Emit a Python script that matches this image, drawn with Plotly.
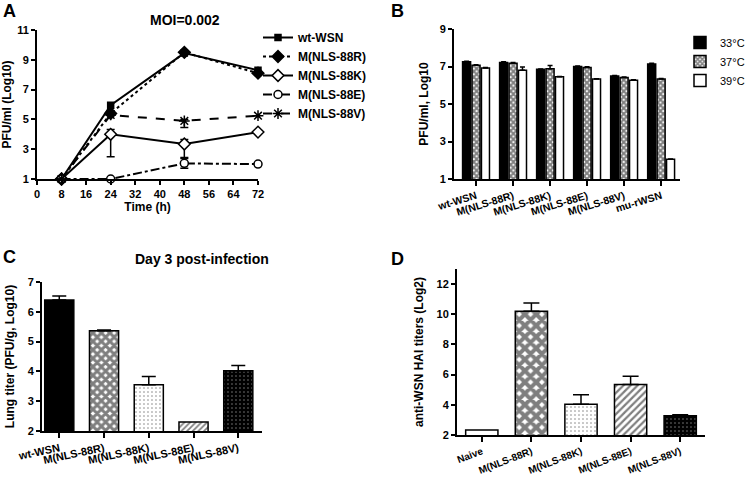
import plotly.graph_objects as go

FONT = "Liberation Sans, Arial, sans-serif"

# ---------------- Panel A data ----------------
time_h = [8, 24, 48, 72]
a_names = ["wt-WSN", "M(NLS-88R)", "M(NLS-88K)", "M(NLS-88E)", "M(NLS-88V)"]
a_wt = [1.0, 5.95, 9.45, 8.3]
a_88r = [1.0, 5.4, 9.5, 8.1]
a_88k = [1.0, 4.0, 3.35, 4.15]
a_88e = [1.0, 1.0, 2.05, 2.0]
a_88v = [1.0, 5.3, 4.9, 5.25]
a_88k_err_up = [0, 0.33, 0.3, 0]
a_88k_err_dn = [0, 1.5, 0.9, 0]
a_88e_err = [0, 0, 0.33, 0]
a_88v_err_up = [0, 0, 0.1, 0]
a_88v_err_dn = [0, 0, 0.45, 0]

# ---------------- Panel B data ----------------
b_cats = ["wt-WSN", "M(NLS-88R)", "M(NLS-88K)", "M(NLS-88E)", "M(NLS-88V)", "mu-rWSN"]
b_temps = ["33°C", "37°C", "39°C"]
b_33 = [7.25, 7.22, 6.85, 7.0, 6.5, 7.13]
b_37 = [7.07, 7.18, 6.88, 6.95, 6.42, 6.33]
b_39 = [6.92, 6.8, 6.45, 6.33, 6.27, 2.05]
b_33_err = [0.03, 0.04, 0.02, 0.03, 0.02, 0.04]
b_37_err = [0.03, 0.03, 0.18, 0.04, 0.02, 0.03]
b_39_err = [0.03, 0.18, 0.02, 0.02, 0.02, 0.02]

# ---------------- Panel C data ----------------
c_cats = ["wt-WSN", "M(NLS-88R)", "M(NLS-88K)", "M(NLS-88E)", "M(NLS-88V)"]
c_vals = [6.4, 5.36, 3.55, 2.3, 4.02]
c_err = [0.13, 0.03, 0.28, 0.0, 0.18]

# ---------------- Panel D data ----------------
d_cats = ["Naive", "M(NLS-88R)", "M(NLS-88K)", "M(NLS-88E)", "M(NLS-88V)"]
d_vals = [2.33, 10.2, 4.03, 5.35, 3.28]
d_err = [0.0, 0.55, 0.64, 0.55, 0.07]

fig = go.Figure()

# ---- Panel A traces ----
a_series = [a_wt, a_88r, a_88k, a_88e, a_88v]
a_dash = ["solid", "dot", "solid", "dashdot", "dash"]
a_sym = ["square", "diamond", "diamond", "circle", "asterisk-open"]
a_mcol = ["black", "black", "white", "white", "black"]
a_msize = [6, 9, 9, 8, 9]
a_errs = [None, None, (a_88k_err_up, a_88k_err_dn), (a_88e_err, a_88e_err),
          (a_88v_err_up, a_88v_err_dn)]
for name, ys, dash, sym, mc, ms, err in zip(a_names, a_series, a_dash, a_sym,
                                            a_mcol, a_msize, a_errs):
    kw = {}
    if err is not None:
        kw["error_y"] = dict(type="data", array=err[0], arrayminus=err[1],
                             symmetric=False, color="black", thickness=1.5, width=4)
    fig.add_trace(go.Scatter(
        x=time_h, y=ys, name=name, mode="lines+markers",
        line=dict(color="black", width=2, dash=dash),
        marker=dict(symbol=sym, size=ms, color=mc,
                    line=dict(color="black", width=1.5)),
        cliponaxis=False, xaxis="x", yaxis="y", legend="legend", **kw))

# ---- Panel B traces ----
b_vals = [b_33, b_37, b_39]
b_errs = [b_33_err, b_37_err, b_39_err]
b_pat = [dict(shape="", bgcolor="black"),
         dict(shape="x", fgcolor="black", bgcolor="white", size=4, solidity=0.75),
         dict(shape="", bgcolor="white")]
b_col = ["black", "white", "white"]
for name, vals, err, pat, col in zip(b_temps, b_vals, b_errs, b_pat, b_col):
    fig.add_trace(go.Bar(
        x=b_cats, y=vals, name=name,
        marker=dict(color=col, pattern=pat, line=dict(color="black", width=1.5)),
        error_y=dict(type="data", array=err, arrayminus=[0] * len(err),
                     symmetric=False, color="black", thickness=1.5, width=2.5),
        xaxis="x2", yaxis="y2", legend="legend2"))

# ---- Panel C trace ----
c_pats = [dict(shape="", bgcolor="black"),
          dict(shape="x", fgcolor="black", bgcolor="white", size=6, solidity=0.75),
          dict(shape=".", fgcolor="black", bgcolor="white", size=4, solidity=0.12),
          dict(shape="/", fgcolor="black", bgcolor="white", size=4, solidity=0.45),
          dict(shape=".", fgcolor="white", bgcolor="black", size=4, solidity=0.12)]
c_cols = ["black", "white", "white", "white", "black"]
for cat, v, e, pat, col in zip(c_cats, c_vals, c_err, c_pats, c_cols):
    fig.add_trace(go.Bar(
        x=[cat], y=[v], showlegend=False,
        marker=dict(color=col, pattern=pat, line=dict(color="black", width=1.5)),
        error_y=dict(type="data", array=[e], arrayminus=[0], symmetric=False,
                     color="black", thickness=1.5, width=7, visible=e > 0),
        xaxis="x3", yaxis="y3"))

# ---- Panel D trace ----
d_pats = [dict(shape="", bgcolor="white"),
          dict(shape="x", fgcolor="black", bgcolor="white", size=8, solidity=0.75),
          dict(shape=".", fgcolor="black", bgcolor="white", size=4, solidity=0.12),
          dict(shape="/", fgcolor="black", bgcolor="white", size=5, solidity=0.45),
          dict(shape=".", fgcolor="white", bgcolor="black", size=4, solidity=0.12)]
d_cols = ["white", "white", "white", "white", "black"]
for cat, v, e, pat, col in zip(d_cats, d_vals, d_err, d_pats, d_cols):
    fig.add_trace(go.Bar(
        x=[cat], y=[v], showlegend=False,
        marker=dict(color=col, pattern=pat, line=dict(color="black", width=1.5)),
        error_y=dict(type="data", array=[e], arrayminus=[0], symmetric=False,
                     color="black", thickness=1.5, width=8, visible=e > 0),
        xaxis="x4", yaxis="y4"))

W, H = 750, 485


def px(x):
    return x / W


def py(y):
    return 1 - y / H


def bold(size):
    return dict(family=FONT, size=size, color="black", weight="bold")


titlefont = bold(12)
base = dict(showline=True, linecolor="black", linewidth=2, ticks="outside",
            ticklen=4, tickwidth=2, tickcolor="black", showgrid=False,
            zeroline=False, tickfont=bold(11), fixedrange=True, automargin=False)

fig.update_layout(
    width=W, height=H, margin=dict(l=0, r=0, t=0, b=0, autoexpand=False),
    paper_bgcolor="white", plot_bgcolor="white",
    font=dict(family=FONT, color="black"),
    barmode="group",
    xaxis=dict(base, domain=[px(37), px(258)], range=[0, 72], tickvals=list(range(0, 73, 8)),
               anchor="y", title=dict(text="Time (h)", font=titlefont, standoff=2)),
    yaxis=dict(base, domain=[py(179), py(30)], range=[1, 11], tickvals=[1, 3, 5, 7, 9, 11],
               anchor="x", title=dict(text="PFU/ml (Log10)", font=titlefont, standoff=6)),
    xaxis2=dict(base, domain=[px(454), px(680)], range=[-0.595, 5.51], type="category",
                tickangle=-17, anchor="y2", ticklen=5, tickfont=bold(10.5)),
    yaxis2=dict(base, domain=[py(179), py(29)], range=[1, 9], tickvals=[1, 3, 5, 7, 9],
                anchor="x2", title=dict(text="PFU/ml, Log10", font=titlefont, standoff=8)),
    xaxis3=dict(base, domain=[px(42), px(262)], range=[-0.386, 4.53], type="category",
                tickangle=-12, anchor="y3", ticklen=5, tickfont=bold(11)),
    yaxis3=dict(base, domain=[py(431), py(282)], range=[2, 7], tickvals=[2, 3, 4, 5, 6, 7],
                anchor="x3", title=dict(text="Lung titer (PFU/g, Log10)", font=titlefont, standoff=10)),
    xaxis4=dict(base, domain=[px(457), px(705)], range=[-0.5, 4.5], type="category",
                tickangle=-21, anchor="y4", ticklen=5, tickfont=bold(10)),
    yaxis4=dict(base, domain=[py(435), py(269)], range=[2, 13], tickvals=[2, 4, 6, 8, 10, 12],
                anchor="x4", title=dict(text="anti-WSN HAI titers (Log2)", font=titlefont, standoff=10)),
    bargap=0.235, bargroupgap=0.15,
    legend=dict(x=px(258), y=py(23), xanchor="left", yanchor="top",
                font=bold(12),
                bgcolor="rgba(0,0,0,0)", itemwidth=30, tracegroupgap=0),
    legend2=dict(x=px(680), y=py(28), xanchor="left", yanchor="top",
                 font=dict(family=FONT, size=11, color="black"),
                 bgcolor="rgba(0,0,0,0)", itemwidth=30),
    showlegend=True,
)

annots = [
    dict(text="A", x=px(9), y=py(0)),
    dict(text="B", x=px(398), y=py(0)),
    dict(text="C", x=px(9), y=py(246)),
    dict(text="D", x=px(398), y=py(248)),
]
for a in annots:
    fig.add_annotation(xref="paper", yref="paper", x=a["x"], y=a["y"], text=a["text"],
                       showarrow=False, xanchor="center", yanchor="top",
                       font=bold(18), borderpad=0)
fig.add_annotation(xref="paper", yref="paper", x=px(148), y=py(10), text="MOI=0.002",
                   showarrow=False, font=bold(14))
fig.add_annotation(xref="paper", yref="paper", x=px(133), y=py(259), text="Day 3 post-infection",
                   showarrow=False, font=bold(14))

fig.write_html("out.html", config={"displayModeBar": False},
               post_script="document.body.style.margin='0';document.body.style.overflow='hidden';")
